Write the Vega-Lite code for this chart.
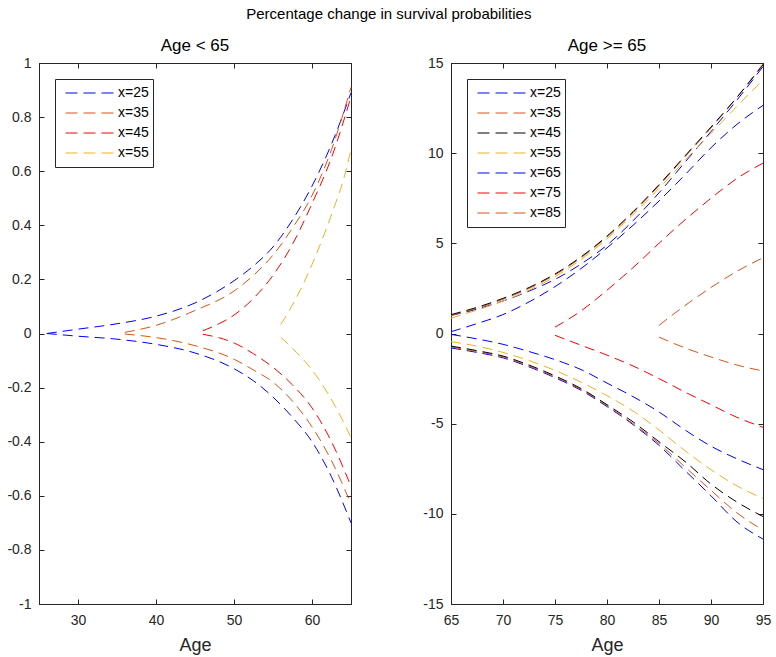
{
  "$schema": "https://vega.github.io/schema/vega-lite/v6.json",
  "padding": {"left": 6, "top": 6, "right": 5, "bottom": 5},
  "title": {"text": "Percentage change in survival probabilities", "fontSize": 15, "fontWeight": "normal", "font": "Liberation Sans", "color": "#000000", "anchor": "middle", "offset": 15},
  "config": {
    "font": "Liberation Sans",
    "view": {"stroke": "#262626", "strokeWidth": 1},
    "axis": {"grid": false, "domainColor": "#262626", "tickColor": "#262626", "labelColor": "#262626", "titleColor": "#262626", "labelFont": "Liberation Sans", "titleFont": "Liberation Sans", "labelFontSize": 14, "titleFontSize": 18, "titleFontWeight": "normal", "tickSize": -5, "labelFlush": false, "labelOverlap": false, "domainWidth": 1, "tickWidth": 1},
    "axisX": {"labelPadding": 14, "titlePadding": 9},
    "axisY": {"labelPadding": 13},
    "title": {"fontSize": 17, "fontWeight": "normal", "color": "#000000", "font": "Liberation Sans", "offset": 1},
    "legend": {"orient": "top-left", "offset": 16, "strokeColor": "#262626", "fillColor": "#ffffff", "padding": 4, "symbolOffset": 6, "symbolType": "stroke", "symbolDash": [12, 6], "symbolStrokeWidth": 1, "symbolSize": 2304, "clipHeight": 20, "rowPadding": 0, "labelFontSize": 14, "labelColor": "#000000", "labelFont": "Liberation Sans", "labelOffset": 4, "title": null}
  },
  "datasets": {
    "young": [
      {"series":"x=25","branch":"up","age":26,"value":0},
      {"series":"x=25","branch":"up","age":30,"value":0.016},
      {"series":"x=25","branch":"up","age":35,"value":0.036},
      {"series":"x=25","branch":"up","age":40,"value":0.064},
      {"series":"x=25","branch":"up","age":45,"value":0.113},
      {"series":"x=25","branch":"up","age":50,"value":0.195},
      {"series":"x=25","branch":"up","age":52.5,"value":0.25},
      {"series":"x=25","branch":"up","age":55,"value":0.32},
      {"series":"x=25","branch":"up","age":57.5,"value":0.42},
      {"series":"x=25","branch":"up","age":60,"value":0.545},
      {"series":"x=25","branch":"up","age":62.5,"value":0.70},
      {"series":"x=25","branch":"up","age":65,"value":0.89},
      {"series":"x=25","branch":"lo","age":26,"value":0},
      {"series":"x=25","branch":"lo","age":30,"value":-0.01},
      {"series":"x=25","branch":"lo","age":35,"value":-0.021},
      {"series":"x=25","branch":"lo","age":40,"value":-0.04},
      {"series":"x=25","branch":"lo","age":45,"value":-0.072},
      {"series":"x=25","branch":"lo","age":50,"value":-0.13},
      {"series":"x=25","branch":"lo","age":52.5,"value":-0.175},
      {"series":"x=25","branch":"lo","age":55,"value":-0.235},
      {"series":"x=25","branch":"lo","age":57.5,"value":-0.31},
      {"series":"x=25","branch":"lo","age":60,"value":-0.40},
      {"series":"x=25","branch":"lo","age":62.5,"value":-0.53},
      {"series":"x=25","branch":"lo","age":65,"value":-0.70},
      {"series":"x=35","branch":"up","age":36,"value":0.004},
      {"series":"x=35","branch":"up","age":40,"value":0.03},
      {"series":"x=35","branch":"up","age":45,"value":0.085},
      {"series":"x=35","branch":"up","age":50,"value":0.157},
      {"series":"x=35","branch":"up","age":52.5,"value":0.215},
      {"series":"x=35","branch":"up","age":55,"value":0.29},
      {"series":"x=35","branch":"up","age":57.5,"value":0.39},
      {"series":"x=35","branch":"up","age":60,"value":0.51},
      {"series":"x=35","branch":"up","age":62.5,"value":0.68},
      {"series":"x=35","branch":"up","age":65,"value":0.91},
      {"series":"x=35","branch":"lo","age":36,"value":-0.002},
      {"series":"x=35","branch":"lo","age":40,"value":-0.015},
      {"series":"x=35","branch":"lo","age":45,"value":-0.045},
      {"series":"x=35","branch":"lo","age":50,"value":-0.095},
      {"series":"x=35","branch":"lo","age":52.5,"value":-0.135},
      {"series":"x=35","branch":"lo","age":55,"value":-0.18},
      {"series":"x=35","branch":"lo","age":57.5,"value":-0.25},
      {"series":"x=35","branch":"lo","age":60,"value":-0.345},
      {"series":"x=35","branch":"lo","age":62.5,"value":-0.47},
      {"series":"x=35","branch":"lo","age":65,"value":-0.63},
      {"series":"x=45","branch":"up","age":46,"value":0.01},
      {"series":"x=45","branch":"up","age":48,"value":0.035},
      {"series":"x=45","branch":"up","age":50,"value":0.068},
      {"series":"x=45","branch":"up","age":52.5,"value":0.13},
      {"series":"x=45","branch":"up","age":55,"value":0.215},
      {"series":"x=45","branch":"up","age":57.5,"value":0.33},
      {"series":"x=45","branch":"up","age":60,"value":0.48},
      {"series":"x=45","branch":"up","age":62.5,"value":0.65},
      {"series":"x=45","branch":"up","age":65,"value":0.875},
      {"series":"x=45","branch":"lo","age":46,"value":-0.003},
      {"series":"x=45","branch":"lo","age":48,"value":-0.015},
      {"series":"x=45","branch":"lo","age":50,"value":-0.035},
      {"series":"x=45","branch":"lo","age":52.5,"value":-0.075},
      {"series":"x=45","branch":"lo","age":55,"value":-0.125},
      {"series":"x=45","branch":"lo","age":57.5,"value":-0.19},
      {"series":"x=45","branch":"lo","age":60,"value":-0.275},
      {"series":"x=45","branch":"lo","age":62.5,"value":-0.40},
      {"series":"x=45","branch":"lo","age":65,"value":-0.565},
      {"series":"x=55","branch":"up","age":56,"value":0.034},
      {"series":"x=55","branch":"up","age":57,"value":0.08},
      {"series":"x=55","branch":"up","age":58,"value":0.133},
      {"series":"x=55","branch":"up","age":59,"value":0.19},
      {"series":"x=55","branch":"up","age":60,"value":0.255},
      {"series":"x=55","branch":"up","age":61,"value":0.325},
      {"series":"x=55","branch":"up","age":62,"value":0.40},
      {"series":"x=55","branch":"up","age":63,"value":0.48},
      {"series":"x=55","branch":"up","age":64,"value":0.565},
      {"series":"x=55","branch":"up","age":65,"value":0.68},
      {"series":"x=55","branch":"lo","age":56,"value":-0.015},
      {"series":"x=55","branch":"lo","age":57,"value":-0.04},
      {"series":"x=55","branch":"lo","age":58,"value":-0.07},
      {"series":"x=55","branch":"lo","age":59,"value":-0.10},
      {"series":"x=55","branch":"lo","age":60,"value":-0.135},
      {"series":"x=55","branch":"lo","age":61,"value":-0.175},
      {"series":"x=55","branch":"lo","age":62,"value":-0.22},
      {"series":"x=55","branch":"lo","age":63,"value":-0.27},
      {"series":"x=55","branch":"lo","age":64,"value":-0.325},
      {"series":"x=55","branch":"lo","age":65,"value":-0.385}
    ],
    "old": [
      {"series":"x=25","branch":"up","age":65,"value":1.0},
      {"series":"x=25","branch":"up","age":67.5,"value":1.35},
      {"series":"x=25","branch":"up","age":70,"value":1.8},
      {"series":"x=25","branch":"up","age":72.5,"value":2.35},
      {"series":"x=25","branch":"up","age":75,"value":3.0},
      {"series":"x=25","branch":"up","age":77.5,"value":3.85},
      {"series":"x=25","branch":"up","age":80,"value":4.9},
      {"series":"x=25","branch":"up","age":82.5,"value":6.25},
      {"series":"x=25","branch":"up","age":85,"value":7.8},
      {"series":"x=25","branch":"up","age":87.5,"value":9.5},
      {"series":"x=25","branch":"up","age":90,"value":11.2},
      {"series":"x=25","branch":"up","age":92.5,"value":12.95},
      {"series":"x=25","branch":"up","age":95,"value":14.8},
      {"series":"x=25","branch":"lo","age":65,"value":-0.8},
      {"series":"x=25","branch":"lo","age":67.5,"value":-1.05},
      {"series":"x=25","branch":"lo","age":70,"value":-1.35},
      {"series":"x=25","branch":"lo","age":72.5,"value":-1.85},
      {"series":"x=25","branch":"lo","age":75,"value":-2.45},
      {"series":"x=25","branch":"lo","age":77.5,"value":-3.15},
      {"series":"x=25","branch":"lo","age":80,"value":-4.05},
      {"series":"x=25","branch":"lo","age":82.5,"value":-5.05},
      {"series":"x=25","branch":"lo","age":85,"value":-6.2},
      {"series":"x=25","branch":"lo","age":87.5,"value":-7.6},
      {"series":"x=25","branch":"lo","age":90,"value":-9.0},
      {"series":"x=25","branch":"lo","age":92.5,"value":-10.45},
      {"series":"x=25","branch":"lo","age":95,"value":-11.4},
      {"series":"x=35","branch":"up","age":65,"value":1.0},
      {"series":"x=35","branch":"up","age":67.5,"value":1.4},
      {"series":"x=35","branch":"up","age":70,"value":1.9},
      {"series":"x=35","branch":"up","age":72.5,"value":2.5},
      {"series":"x=35","branch":"up","age":75,"value":3.25},
      {"series":"x=35","branch":"up","age":77.5,"value":4.2},
      {"series":"x=35","branch":"up","age":80,"value":5.35},
      {"series":"x=35","branch":"up","age":82.5,"value":6.7},
      {"series":"x=35","branch":"up","age":85,"value":8.2},
      {"series":"x=35","branch":"up","age":87.5,"value":9.8},
      {"series":"x=35","branch":"up","age":90,"value":11.4},
      {"series":"x=35","branch":"up","age":92.5,"value":13.1},
      {"series":"x=35","branch":"up","age":95,"value":14.95},
      {"series":"x=35","branch":"lo","age":65,"value":-0.75},
      {"series":"x=35","branch":"lo","age":67.5,"value":-1.0},
      {"series":"x=35","branch":"lo","age":70,"value":-1.3},
      {"series":"x=35","branch":"lo","age":72.5,"value":-1.8},
      {"series":"x=35","branch":"lo","age":75,"value":-2.4},
      {"series":"x=35","branch":"lo","age":77.5,"value":-3.1},
      {"series":"x=35","branch":"lo","age":80,"value":-4.0},
      {"series":"x=35","branch":"lo","age":82.5,"value":-5.0},
      {"series":"x=35","branch":"lo","age":85,"value":-6.1},
      {"series":"x=35","branch":"lo","age":87.5,"value":-7.4},
      {"series":"x=35","branch":"lo","age":90,"value":-8.7},
      {"series":"x=35","branch":"lo","age":92.5,"value":-9.95},
      {"series":"x=35","branch":"lo","age":95,"value":-10.9},
      {"series":"x=45","branch":"up","age":65,"value":1.05},
      {"series":"x=45","branch":"up","age":67.5,"value":1.45},
      {"series":"x=45","branch":"up","age":70,"value":1.95},
      {"series":"x=45","branch":"up","age":72.5,"value":2.55},
      {"series":"x=45","branch":"up","age":75,"value":3.3},
      {"series":"x=45","branch":"up","age":77.5,"value":4.25},
      {"series":"x=45","branch":"up","age":80,"value":5.4},
      {"series":"x=45","branch":"up","age":82.5,"value":6.75},
      {"series":"x=45","branch":"up","age":85,"value":8.25},
      {"series":"x=45","branch":"up","age":87.5,"value":9.85},
      {"series":"x=45","branch":"up","age":90,"value":11.45},
      {"series":"x=45","branch":"up","age":92.5,"value":13.1},
      {"series":"x=45","branch":"up","age":95,"value":14.9},
      {"series":"x=45","branch":"lo","age":65,"value":-0.7},
      {"series":"x=45","branch":"lo","age":67.5,"value":-0.95},
      {"series":"x=45","branch":"lo","age":70,"value":-1.25},
      {"series":"x=45","branch":"lo","age":72.5,"value":-1.75},
      {"series":"x=45","branch":"lo","age":75,"value":-2.35},
      {"series":"x=45","branch":"lo","age":77.5,"value":-3.05},
      {"series":"x=45","branch":"lo","age":80,"value":-3.95},
      {"series":"x=45","branch":"lo","age":82.5,"value":-4.9},
      {"series":"x=45","branch":"lo","age":85,"value":-6.0},
      {"series":"x=45","branch":"lo","age":87.5,"value":-7.1},
      {"series":"x=45","branch":"lo","age":90,"value":-8.35},
      {"series":"x=45","branch":"lo","age":92.5,"value":-9.35},
      {"series":"x=45","branch":"lo","age":95,"value":-10.15},
      {"series":"x=55","branch":"up","age":65,"value":0.85},
      {"series":"x=55","branch":"up","age":67.5,"value":1.3},
      {"series":"x=55","branch":"up","age":70,"value":1.8},
      {"series":"x=55","branch":"up","age":72.5,"value":2.4},
      {"series":"x=55","branch":"up","age":75,"value":3.15},
      {"series":"x=55","branch":"up","age":77.5,"value":4.1},
      {"series":"x=55","branch":"up","age":80,"value":5.25},
      {"series":"x=55","branch":"up","age":82.5,"value":6.6},
      {"series":"x=55","branch":"up","age":85,"value":8.05},
      {"series":"x=55","branch":"up","age":87.5,"value":9.6},
      {"series":"x=55","branch":"up","age":90,"value":11.1},
      {"series":"x=55","branch":"up","age":92.5,"value":12.6},
      {"series":"x=55","branch":"up","age":95,"value":14.05},
      {"series":"x=55","branch":"lo","age":65,"value":-0.45},
      {"series":"x=55","branch":"lo","age":67.5,"value":-0.7},
      {"series":"x=55","branch":"lo","age":70,"value":-1.05},
      {"series":"x=55","branch":"lo","age":72.5,"value":-1.5},
      {"series":"x=55","branch":"lo","age":75,"value":-2.05},
      {"series":"x=55","branch":"lo","age":77.5,"value":-2.7},
      {"series":"x=55","branch":"lo","age":80,"value":-3.45},
      {"series":"x=55","branch":"lo","age":82.5,"value":-4.3},
      {"series":"x=55","branch":"lo","age":85,"value":-5.35},
      {"series":"x=55","branch":"lo","age":87.5,"value":-6.5},
      {"series":"x=55","branch":"lo","age":90,"value":-7.55},
      {"series":"x=55","branch":"lo","age":92.5,"value":-8.45},
      {"series":"x=55","branch":"lo","age":95,"value":-9.15},
      {"series":"x=65","branch":"up","age":65,"value":0.1},
      {"series":"x=65","branch":"up","age":67.5,"value":0.55},
      {"series":"x=65","branch":"up","age":70,"value":1.05},
      {"series":"x=65","branch":"up","age":72.5,"value":1.75},
      {"series":"x=65","branch":"up","age":75,"value":2.6},
      {"series":"x=65","branch":"up","age":77.5,"value":3.6},
      {"series":"x=65","branch":"up","age":80,"value":4.75},
      {"series":"x=65","branch":"up","age":82.5,"value":6.0},
      {"series":"x=65","branch":"up","age":85,"value":7.35},
      {"series":"x=65","branch":"up","age":87.5,"value":8.8},
      {"series":"x=65","branch":"up","age":90,"value":10.3},
      {"series":"x=65","branch":"up","age":92.5,"value":11.6},
      {"series":"x=65","branch":"up","age":95,"value":12.65},
      {"series":"x=65","branch":"lo","age":65,"value":-0.05},
      {"series":"x=65","branch":"lo","age":67.5,"value":-0.3},
      {"series":"x=65","branch":"lo","age":70,"value":-0.6},
      {"series":"x=65","branch":"lo","age":72.5,"value":-1.0},
      {"series":"x=65","branch":"lo","age":75,"value":-1.45},
      {"series":"x=65","branch":"lo","age":77.5,"value":-2.0},
      {"series":"x=65","branch":"lo","age":80,"value":-2.75},
      {"series":"x=65","branch":"lo","age":82.5,"value":-3.5},
      {"series":"x=65","branch":"lo","age":85,"value":-4.35},
      {"series":"x=65","branch":"lo","age":87.5,"value":-5.35},
      {"series":"x=65","branch":"lo","age":90,"value":-6.25},
      {"series":"x=65","branch":"lo","age":92.5,"value":-6.95},
      {"series":"x=65","branch":"lo","age":95,"value":-7.55},
      {"series":"x=75","branch":"up","age":75,"value":0.35},
      {"series":"x=75","branch":"up","age":77.5,"value":1.25},
      {"series":"x=75","branch":"up","age":80,"value":2.4},
      {"series":"x=75","branch":"up","age":82.5,"value":3.65},
      {"series":"x=75","branch":"up","age":85,"value":5.0},
      {"series":"x=75","branch":"up","age":87.5,"value":6.3},
      {"series":"x=75","branch":"up","age":90,"value":7.5},
      {"series":"x=75","branch":"up","age":92.5,"value":8.6},
      {"series":"x=75","branch":"up","age":95,"value":9.45},
      {"series":"x=75","branch":"lo","age":75,"value":-0.1},
      {"series":"x=75","branch":"lo","age":77.5,"value":-0.65},
      {"series":"x=75","branch":"lo","age":80,"value":-1.2},
      {"series":"x=75","branch":"lo","age":82.5,"value":-1.8},
      {"series":"x=75","branch":"lo","age":85,"value":-2.5},
      {"series":"x=75","branch":"lo","age":87.5,"value":-3.25},
      {"series":"x=75","branch":"lo","age":90,"value":-3.95},
      {"series":"x=75","branch":"lo","age":92.5,"value":-4.65},
      {"series":"x=75","branch":"lo","age":95,"value":-5.2},
      {"series":"x=85","branch":"up","age":85,"value":0.45},
      {"series":"x=85","branch":"up","age":87.5,"value":1.55},
      {"series":"x=85","branch":"up","age":90,"value":2.55},
      {"series":"x=85","branch":"up","age":92.5,"value":3.45},
      {"series":"x=85","branch":"up","age":95,"value":4.2},
      {"series":"x=85","branch":"lo","age":85,"value":-0.2},
      {"series":"x=85","branch":"lo","age":87.5,"value":-0.8},
      {"series":"x=85","branch":"lo","age":90,"value":-1.3},
      {"series":"x=85","branch":"lo","age":92.5,"value":-1.75},
      {"series":"x=85","branch":"lo","age":95,"value":-2.08}
    ]
  },
  "spacing": 68,
  "resolve": {"scale": {"color": "independent"}},
  "hconcat": [
    {
      "width": 312,
      "height": 541,
      "title": "Age < 65",
      "data": {"name": "young"},
      "layer": [
        {
          "mark": {"type": "line", "strokeDash": [10, 6], "strokeWidth": 1, "interpolate": "monotone"},
          "encoding": {
            "x": {"field": "age", "type": "quantitative", "scale": {"domain": [25, 65], "nice": false, "zero": false}, "axis": {"values": [30, 40, 50, 60], "title": "Age"}},
            "y": {"field": "value", "type": "quantitative", "scale": {"domain": [-1, 1], "nice": false}, "axis": {"values": [-1, -0.8, -0.6, -0.4, -0.2, 0, 0.2, 0.4, 0.6, 0.8, 1], "title": null, "labelExpr": "datum.value < 0 ? '-' + format(-datum.value, '~g') : format(datum.value, '~g')"}},
            "color": {"field": "series", "type": "nominal", "scale": {"domain": ["x=25", "x=35", "x=45", "x=55"], "range": ["#0000ff", "#d95319", "#ff0000", "#edb120"]}},
            "detail": {"field": "branch", "type": "nominal"}
          }
        },
        {
          "mark": {"type": "line", "opacity": 0},
          "encoding": {
            "x": {"field": "age", "type": "quantitative", "axis": {"orient": "top", "values": [30, 40, 50, 60], "labels": false, "title": null}},
            "y": {"field": "value", "type": "quantitative", "axis": {"orient": "right", "values": [-1, -0.8, -0.6, -0.4, -0.2, 0, 0.2, 0.4, 0.6, 0.8, 1], "labels": false, "title": null}},
            "detail": {"field": "series", "type": "nominal"}
          }
        }
      ],
      "resolve": {"axis": {"x": "independent", "y": "independent"}}
    },
    {
      "width": 312,
      "height": 541,
      "title": "Age >= 65",
      "data": {"name": "old"},
      "layer": [
        {
          "mark": {"type": "line", "strokeDash": [10, 6], "strokeWidth": 1, "interpolate": "monotone"},
          "encoding": {
            "x": {"field": "age", "type": "quantitative", "scale": {"domain": [65, 95], "nice": false, "zero": false}, "axis": {"values": [65, 70, 75, 80, 85, 90, 95], "title": "Age"}},
            "y": {"field": "value", "type": "quantitative", "scale": {"domain": [-15, 15], "nice": false}, "axis": {"values": [-15, -10, -5, 0, 5, 10, 15], "title": null, "labelExpr": "datum.value < 0 ? '-' + format(-datum.value, '~g') : format(datum.value, '~g')"}},
            "color": {"field": "series", "type": "nominal", "scale": {"domain": ["x=25", "x=35", "x=45", "x=55", "x=65", "x=75", "x=85"], "range": ["#0000ff", "#d95319", "#000000", "#edb120", "#0000ff", "#ff0000", "#d95319"]}},
            "detail": {"field": "branch", "type": "nominal"}
          }
        },
        {
          "mark": {"type": "line", "opacity": 0},
          "encoding": {
            "x": {"field": "age", "type": "quantitative", "axis": {"orient": "top", "values": [65, 70, 75, 80, 85, 90, 95], "labels": false, "title": null}},
            "y": {"field": "value", "type": "quantitative", "axis": {"orient": "right", "values": [-15, -10, -5, 0, 5, 10, 15], "labels": false, "title": null}},
            "detail": {"field": "series", "type": "nominal"}
          }
        }
      ],
      "resolve": {"axis": {"x": "independent", "y": "independent"}}
    }
  ]
}
